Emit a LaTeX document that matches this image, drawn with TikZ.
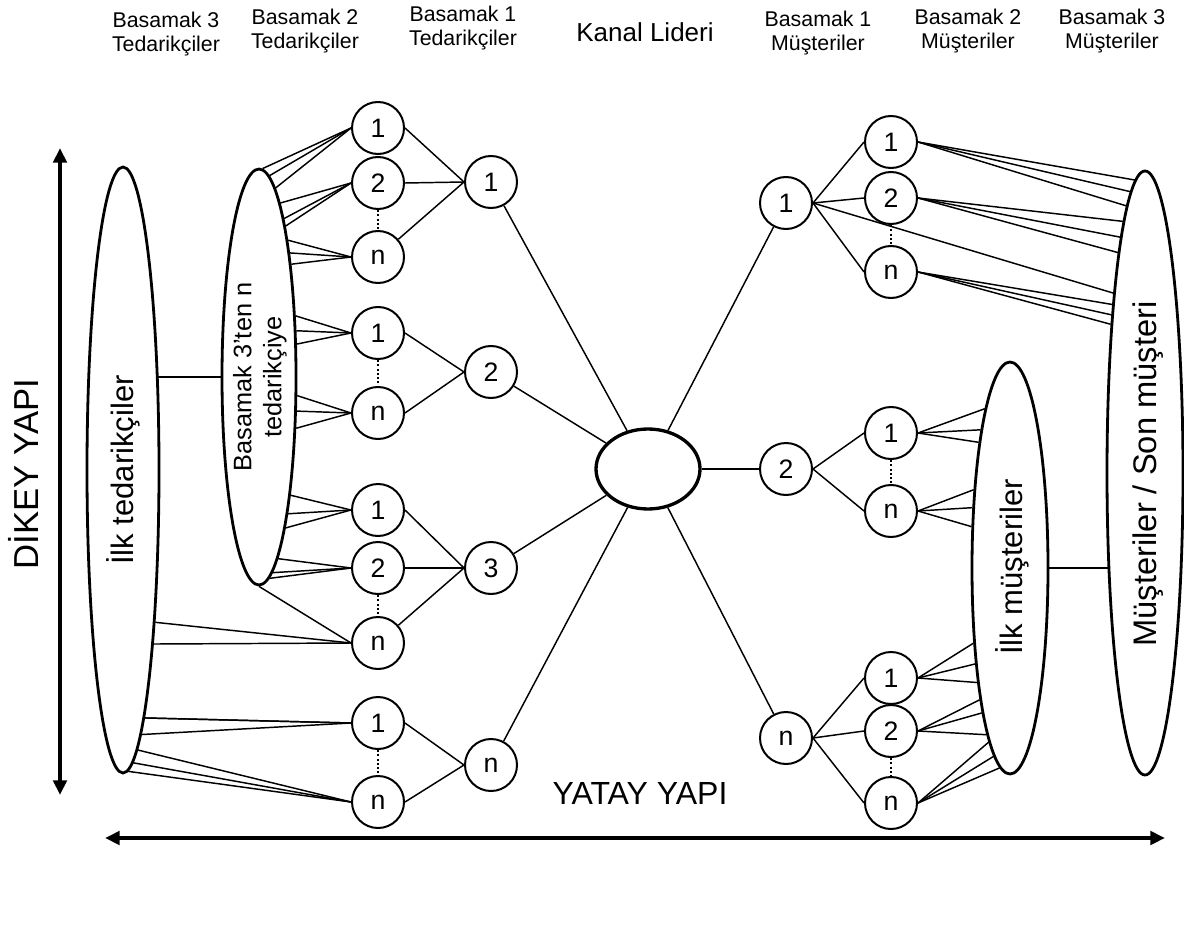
\documentclass[tikz,border=0pt]{standalone}
\usepackage{fontspec}
\setmainfont{Liberation Sans}
\usetikzlibrary{arrows.meta,shapes.geometric}

% 1 unit = 1px at 96 dpi, y grows downwards
\tikzset{
  numcirc/.style={circle, draw, line width=1.5pt, minimum size=39pt, inner sep=0pt,
    font=\fontsize{20}{22}\selectfont},
  ellbox/.style={ellipse, draw, line width=2.1pt, inner sep=0pt},
  wire/.style={line width=1.1pt},
  dotgap/.style={line width=1.6pt, dash pattern=on 1.6pt off 1.6pt},
  headtext/.style={align=center, font=\fontsize{16}{18.5}\selectfont},
  bigtext/.style={font=\fontsize{23.25}{26}\selectfont},
  midtext/.style={align=center, font=\fontsize{19}{22.5}\selectfont},
  dimarrow/.style={line width=3pt, arrows={Triangle[length=11pt,width=10pt]-Triangle[length=11pt,width=10pt]}},
}

% an ellipse node that remembers its centre height and radii
\newcommand\ellipsenode[5]{% name, cx, cy, rx, ry
  \expandafter\def\csname e#1cy\endcsname{#3}%
  \expandafter\def\csname e#1rx\endcsname{#4}%
  \expandafter\def\csname e#1ry\endcsname{#5}%
  \node[ellbox, minimum width={2*#4*0.75pt}, minimum height={2*#5*0.75pt}] (#1) at (#2,#3) {};}

% border angle of an ellipse at a given height, on its left (-1) or right (+1) side
\newcommand\ellang[3]{%
  \expandafter\let\expandafter\ecy\csname e#1cy\endcsname
  \expandafter\let\expandafter\erx\csname e#1rx\endcsname
  \expandafter\let\expandafter\ery\csname e#1ry\endcsname
  \pgfmathsetmacro\dd{#3-\ecy}%
  \pgfmathtruncatemacro\ang{mod(round(atan2(0-(\dd),(#2)*\erx*sqrt(max(0,1-(\dd/\ery)^2))))+360,360)}%
}

% a fan of lines from one point to several heights on an ellipse
\newcommand\fan[4]{%
  \foreach \yy in {#4}{%
    \ellang{#2}{#3}{\yy}%
    \draw[wire] (#1) -- (#2.\ang);
  }}

\begin{document}
\begin{tikzpicture}[x=0.75pt,y=-0.75pt]
\useasboundingbox (0,0) rectangle (1184,934);

% column headings
\node[headtext] (h1) at (166,34) {Basamak 3\\Tedarikçiler};
\node[headtext] (h2) at (305,31) {Basamak 2\\Tedarikçiler};
\node[headtext] (h3) at (463,28) {Basamak 1\\Tedarikçiler};
\node[headtext, font=\fontsize{19.5}{22}\selectfont] (h4) at (645,32) {Kanal Lideri};
\node[headtext] (h5) at (818,33) {Basamak 1\\Müşteriler};
\node[headtext] (h6) at (968,31) {Basamak 2\\Müşteriler};
\node[headtext] (h7) at (1112,31) {Basamak 3\\Müşteriler};

% axes
\coordinate (vt) at (60,148);
\coordinate (vb) at (60,795);
\draw[dimarrow] (vt) -- (vb);
\node[bigtext, font=\fontsize{26}{28}\selectfont, rotate=90] (tv) at (23,474) {DİKEY YAPI};
\coordinate (hl) at (105,838);
\coordinate (hr) at (1165,838);
\draw[dimarrow] (hl) -- (hr);
\node[bigtext, font=\fontsize{24}{26}\selectfont] (th) at (640,793) {YATAY YAPI};

% large ellipses
\ellipsenode{supA}{123}{470}{36}{303}
\ellipsenode{supB}{259}{377}{37}{208}
\ellipsenode{cusM}{1010}{568}{38}{206}
\ellipsenode{cusC}{1145}{473}{38}{302}
\node[ellbox, line width=2.5pt, minimum width=78pt, minimum height=60pt] (lead) at (648,469) {};

\node[bigtext, rotate=90] (ta) at (123,470) {İlk tedarikçiler};
\node[midtext, rotate=90] (tb) at (260,377) {Basamak 3’ten n\\tedarikçiye};
\node[bigtext, rotate=90] (tm) at (1012,567) {İlk müşteriler};
\node[bigtext, font=\fontsize{24.5}{27}\selectfont, rotate=90] (tc) at (1148,474) {Müşteriler / Son müşteri};

% tier 2 suppliers
\node[numcirc] (c11) at (378,128) {1};
\node[numcirc] (c12) at (378,183) {2};
\node[numcirc] (c1n) at (378,257) {n};
\node[numcirc] (c21) at (378,333) {1};
\node[numcirc] (c2n) at (378,413) {n};
\node[numcirc] (c31) at (378,510) {1};
\node[numcirc] (c32) at (378,568) {2};
\node[numcirc] (c3n) at (378,643) {n};
\node[numcirc] (c41) at (378,723) {1};
\node[numcirc] (c4n) at (378,802) {n};
% tier 1 suppliers
\node[numcirc] (t1) at (491,182) {1};
\node[numcirc] (t2) at (491,372) {2};
\node[numcirc] (t3) at (491,568) {3};
\node[numcirc] (tn) at (491,765) {n};
% tier 1 customers
\node[numcirc] (r1) at (786,203) {1};
\node[numcirc] (r2) at (786,469) {2};
\node[numcirc] (rn) at (786,738) {n};
% tier 2 customers
\node[numcirc] (s11) at (891,142) {1};
\node[numcirc] (s12) at (891,198) {2};
\node[numcirc] (s1n) at (891,272) {n};
\node[numcirc] (s21) at (891,433) {1};
\node[numcirc] (s2n) at (891,511) {n};
\node[numcirc] (s31) at (891,678) {1};
\node[numcirc] (s32) at (891,731) {2};
\node[numcirc] (s3n) at (891,803) {n};

% "and so on" gaps
\foreach \a/\b in {c12/c1n, c21/c2n, c32/c3n, c41/c4n, s12/s1n, s21/s2n, s32/s3n}
  \draw[dotgap] (\a.south) -- (\b.north);

% supplier side
\draw[wire] (c11.east) -- (t1.west);
\draw[wire] (c12.east) -- (t1.west);
\draw[wire] (c1n) -- (t1.west);
\draw[wire] (c21.east) -- (t2.west);
\draw[wire] (c2n.east) -- (t2.west);
\draw[wire] (c31.east) -- (t3.west);
\draw[wire] (c32.east) -- (t3.west);
\draw[wire] (c3n) -- (t3.west);
\draw[wire] (c41.east) -- (tn.west);
\draw[wire] (c4n.east) -- (tn.west);
\foreach \t in {t1,t2,t3,tn} \draw[wire] (\t) -- (lead);

% customer side
\foreach \r in {r1,rn} \draw[wire] (lead) -- (\r);
\draw[wire] (lead.east) -- (r2.west);
\foreach \s in {s11,s12,s1n} \draw[wire] (r1.east) -- (\s.west);
\foreach \s in {s21,s2n} \draw[wire] (r2.east) -- (\s.west);
\foreach \s in {s31,s32,s3n} \draw[wire] (rn.east) -- (\s.west);

% fans into the big ellipses
\fan{c11.west}{supB}{1}{170,177,187}
\fan{c12.west}{supB}{1}{207,218,230}
\fan{c1n.west}{supB}{1}{243,257,269}
\fan{c21.west}{supB}{1}{317,333,345}
\fan{c2n.west}{supB}{1}{395,410,427}
\fan{c31.west}{supB}{1}{492,509,528}
\fan{c32.west}{supB}{1}{555,568,578}
\draw[wire] (c3n.west) -- (supB.south);
\fan{c3n.west}{supA}{1}{622,642}
\fan{c41.west}{supA}{1}{710,720,730}
\fan{c4n.west}{supA}{1}{746,762,772}

\fan{s11.east}{cusC}{-1}{182,198,212}
\fan{s12.east}{cusC}{-1}{232,246,257}
\fan{s1n.east}{cusC}{-1}{305,318,329}
\fan{r1.east}{cusC}{-1}{295}
\fan{s21.east}{cusM}{-1}{408,431,448}
\fan{s2n.east}{cusM}{-1}{491,509,528}
\fan{s31.east}{cusM}{-1}{642,663,682}
\fan{s32.east}{cusM}{-1}{697,712,729}
\fan{s3n.east}{cusM}{-1}{738,756,768}

% level links between the big ellipses
\ellang{supA}{1}{377}
\draw[wire] (supB.west) -- (supB.west -| supA.\ang);
\ellang{cusC}{-1}{568}
\draw[wire] (cusM.east) -- (cusM.east -| cusC.\ang);
\end{tikzpicture}
\end{document}
